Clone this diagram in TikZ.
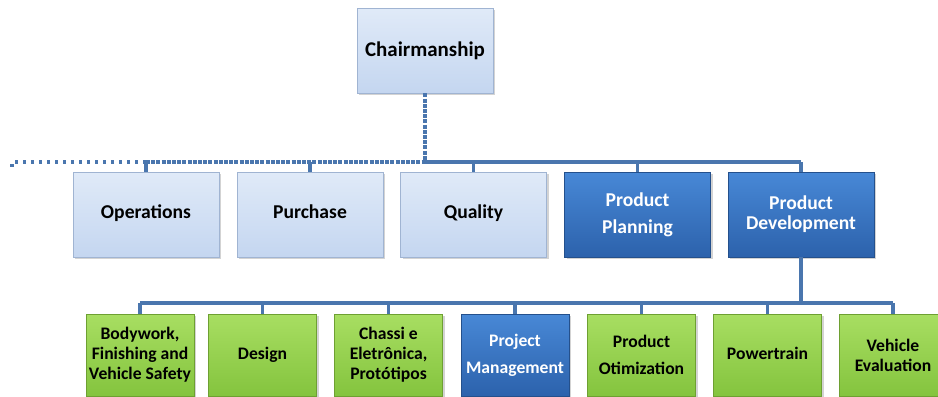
\documentclass[tikz,border=0pt]{standalone}
\usepackage{fontspec}
\setmainfont{Carlito}
\usetikzlibrary{shadows}

\definecolor{lineblue}{RGB}{74,118,174}
\definecolor{paletop}{RGB}{224,234,248}
\definecolor{palebot}{RGB}{196,214,240}
\definecolor{paleedge}{RGB}{160,180,210}
\definecolor{deeptop}{RGB}{72,136,214}
\definecolor{deepbot}{RGB}{44,98,172}
\definecolor{deepedge}{RGB}{36,80,140}
\definecolor{limetop}{RGB}{168,222,98}
\definecolor{limebot}{RGB}{132,196,62}
\definecolor{limeedge}{RGB}{110,160,50}

\tikzset{
  unit/.style={rectangle, line width=0.6pt, align=center, inner sep=1pt,
    drop shadow={opacity=0.35, shadow xshift=1.5pt, shadow yshift=-1.5pt}},
  palebox/.style={unit, draw=paleedge, top color=paletop, bottom color=palebot, text=black},
  deepbox/.style={unit, draw=deepedge, top color=deeptop, bottom color=deepbot, text=white},
  limebox/.style={unit, draw=limeedge, top color=limetop, bottom color=limebot, text=black},
  headsize/.style={minimum width=102pt, minimum height=63.75pt,
    font=\bfseries\fontsize{15.7}{18}\selectfont},
  uppersize/.style={minimum width=109.5pt, minimum height=63.75pt,
    font=\bfseries\fontsize{14.7}{15}\selectfont},
  lowersize/.style={minimum width=81pt, minimum height=61.5pt,
    font=\bfseries\fontsize{13.2}{15}\selectfont},
  link/.style={draw=lineblue, line width=2.5pt},
  dense/.style={dash pattern=on 3pt off 0.9pt},
  sparse/.style={dash pattern=on 2.5pt off 3.5pt}
}

\begin{document}
\begin{tikzpicture}[x=0.75pt,y=0.75pt,yscale=-1,xscale=1]
  \useasboundingbox (0,0) rectangle (938,396);

  % top of the chart
  \node[palebox, headsize] (chair) at (425,50.5) {Chairmanship};

  % first level
  \node[palebox, uppersize] (oper)  at (146,214.5) {\strut Operations};
  \node[palebox, uppersize] (purch) at (310,214.5) {\strut Purchase};
  \node[palebox, uppersize] (qual)  at (473.5,214.5) {\strut Quality};
  \node[deepbox, uppersize] (pplan) at (637.5,214.5) {Product\\[5pt]Planning};
  \node[deepbox, uppersize] (pdev)  at (801,214.5) {Product\\Development};

  % second level, under Product Development
  \node[limebox, lowersize] (body)  at (140,355) {Bodywork,\\Finishing and\\Vehicle Safety};
  \node[limebox, lowersize] (desig) at (262.5,355) {\strut Design};
  \node[limebox, lowersize] (chass) at (388.5,355) {Chassi e\\Eletrônica,\\Protótipos};
  \node[deepbox, lowersize]  (proj)  at (515,355) {Project\\[5pt]Management};
  \node[limebox, lowersize] (optim) at (641.5,355) {Product\\[5pt]Otimization};
  \node[limebox, lowersize] (power) at (767.5,355) {\strut Powertrain};
  \node[limebox, lowersize] (veval) at (893,355) {Vehicle\\Evaluation};

  % connectors
  \coordinate (hub) at (425,162);
  \coordinate (cut) at (12,170);
  \draw[link, dense] (chair) -- (hub);
  \draw[link, dense] (oper.north |- hub) -- (hub);
  \draw[link] (hub) -- (pdev.north |- hub);
  \draw[link, sparse] (oper.north |- hub) -- (cut |- hub) -- (cut);
  \foreach \n in {oper,purch,qual,pplan,pdev}
    \draw[link] (\n.north |- hub) -- (\n);

  \coordinate (sub) at (801,303);
  \draw[link] (pdev) -- (sub);
  \draw[link] (body.north |- sub) -- (veval.north |- sub);
  \foreach \n in {body,desig,chass,proj,optim,power,veval}
    \draw[link] (\n.north |- sub) -- (\n);
\end{tikzpicture}
\end{document}
